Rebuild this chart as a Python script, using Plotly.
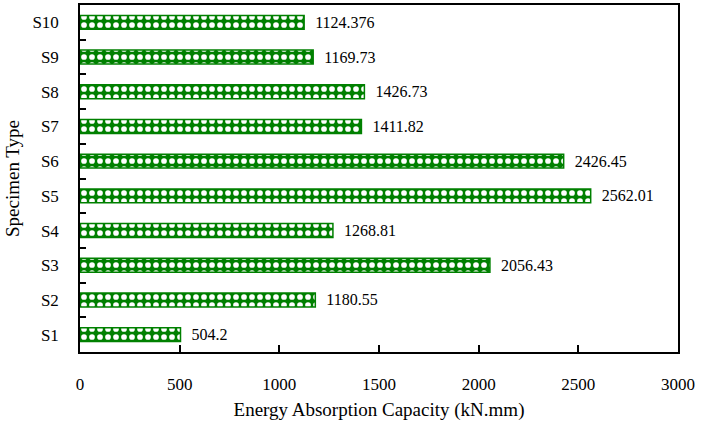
import plotly.graph_objects as go

categories = ["S1", "S2", "S3", "S4", "S5", "S6", "S7", "S8", "S9", "S10"]
values = [504.2, 1180.55, 2056.43, 1268.81, 2562.01, 2426.45, 1411.82, 1426.73, 1169.73, 1124.376]
labels = ["504.2", "1180.55", "2056.43", "1268.81", "2562.01", "2426.45", "1411.82", "1426.73", "1169.73", "1124.376"]
x_ticks = [0, 500, 1000, 1500, 2000, 2500, 3000]

font_family = "Liberation Serif, DejaVu Serif, serif"
green = "#008000"

fig = go.Figure(go.Bar(
    y=categories, x=values, orientation="h",
    width=0.4,
    text=["  " + t for t in labels], textposition="outside",
    constraintext="none",
    textfont=dict(family=font_family, size=16, color="black"),
    marker=dict(color=green, line=dict(color=green, width=1.5),
                pattern=dict(shape=".", fgcolor="white", fgopacity=1, bgcolor=green,
                             size=8, solidity=0.4)),
    cliponaxis=False,
))

fig.update_layout(
    width=701, height=429,
    margin=dict(l=80, r=23, t=5, b=77),
    plot_bgcolor="white", paper_bgcolor="white",
    font=dict(family=font_family, size=17, color="black"),
    showlegend=False,
)
fig.update_xaxes(
    range=[0, 3000], tickvals=x_ticks, ticktext=[str(v) for v in x_ticks],
    ticks="inside", ticklen=7, tickwidth=1.5, tickcolor="black",
    showline=True, linecolor="black", linewidth=1.5, mirror=True,
    showgrid=False, zeroline=False, automargin=False,
    ticklabelstandoff=16,
    title=dict(text="Energy Absorption Capacity (kN.mm)", font=dict(size=19), standoff=10),
    tickfont=dict(size=17),
)
fig.update_yaxes(
    type="category", categoryorder="array", categoryarray=categories,
    range=[-0.5, 9.5],
    ticks="inside", tickson="boundaries", ticklen=6, tickwidth=1.5, tickcolor="black",
    showline=True, linecolor="black", linewidth=1.5, mirror=True,
    showgrid=False, zeroline=False, automargin=False,
    ticklabelstandoff=16,
    title=dict(text="Specimen Type", font=dict(size=19), standoff=8),
    tickfont=dict(size=17),
)

fig.write_html("out.html", config={"displayModeBar": False},
               post_script="document.body.style.margin='0';document.body.style.overflow='hidden';")
